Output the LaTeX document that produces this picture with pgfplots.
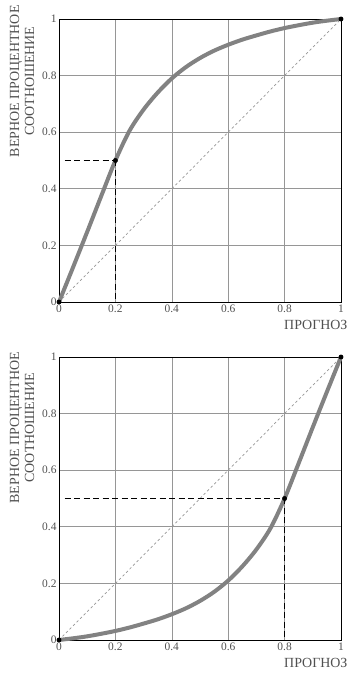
\documentclass[border=0pt]{standalone}
\usepackage{pgfplots}
\pgfplotsset{compat=1.18}
\usepackage{fontspec}
\setmainfont{Liberation Serif}
\definecolor{curvegray}{RGB}{130,130,130}
\definecolor{gridgray}{RGB}{150,150,150}
\definecolor{labgray}{RGB}{80,80,80}
\pgfplotsset{
  myax/.style={
    scale only axis, width=282bp, height=283bp,
    xmin=0, xmax=1, ymin=0, ymax=1,
    xtick={0,0.2,0.4,0.6,0.8,1}, ytick={0,0.2,0.4,0.6,0.8,1},
    xticklabels={0,0.2,0.4,0.6,0.8,1}, yticklabels={0,0.2,0.4,0.6,0.8,1},
    tick style={draw=none},
    grid=major, grid style={gridgray, line width=0.6bp},
    axis line style={black, line width=0.8bp},
    ticklabel style={font=\fontsize{11.5}{13}\selectfont, text=labgray},
    xticklabel style={yshift=1bp},
    yticklabel style={xshift=1bp},
    clip=false,
  }
}
\pgfplotstableread{
x y
0 0
0.05 0.123
0.1 0.248
0.15 0.375
0.2 0.5
0.25 0.605
0.3 0.68
0.35 0.74
0.4 0.79
0.45 0.83
0.5 0.862
0.55 0.888
0.6 0.909
0.65 0.927
0.7 0.942
0.75 0.956
0.8 0.968
0.85 0.978
0.9 0.987
0.95 0.994
1 1
}\topcurve
\pgfplotstableread{
x y
0 0
0.05 0.006
0.1 0.013
0.15 0.022
0.2 0.032
0.25 0.044
0.3 0.058
0.35 0.073
0.4 0.091
0.45 0.112
0.5 0.138
0.55 0.17
0.6 0.21
0.65 0.26
0.7 0.32
0.75 0.395
0.8 0.5
0.85 0.625
0.9 0.752
0.95 0.877
1 1
}\botcurve
\begin{document}
\begin{tikzpicture}
\useasboundingbox (0,0) rectangle (356bp,681bp);
% top
\begin{axis}[myax, at={(59bp,379bp)}, anchor=south west]
\addplot[gridgray, line width=0.7bp, dash pattern=on 2.5bp off 2.5bp] coordinates {(0,0) (1,1)};
\addplot[curvegray, line width=4bp, smooth] table {\topcurve};
\addplot[black, line width=0.8bp, dash pattern=on 6bp off 3.5bp] coordinates {(0.02,0.5) (0.2,0.5)};
\addplot[black, line width=0.8bp, dash pattern=on 6bp off 3.5bp] coordinates {(0.2,0.5) (0.2,0)};
\addplot[only marks, mark=*, mark size=2.2bp, black] coordinates {(0,0) (0.2,0.5) (1,1)};
\node[xshift=-37bp, rotate=90, align=center, text=labgray, font=\fontsize{14}{15}\selectfont, anchor=center] at (rel axis cs:0,0.78) {ВЕРНОЕ ПРОЦЕНТНОЕ\\СООТНОШЕНИЕ};
\node[xshift=10bp, yshift=-15bp, anchor=north east, text=labgray, font=\fontsize{14}{15}\selectfont] at (rel axis cs:1,0) {ПРОГНОЗ};
\end{axis}
% bottom
\begin{axis}[myax, at={(59bp,41bp)}, anchor=south west]
\addplot[gridgray, line width=0.7bp, dash pattern=on 2.5bp off 2.5bp] coordinates {(0,0) (1,1)};
\addplot[curvegray, line width=4bp, smooth] table {\botcurve};
\addplot[black, line width=0.8bp, dash pattern=on 6bp off 3.5bp] coordinates {(0.02,0.5) (0.8,0.5)};
\addplot[black, line width=0.8bp, dash pattern=on 6bp off 3.5bp] coordinates {(0.8,0.5) (0.8,0)};
\addplot[only marks, mark=*, mark size=2.2bp, black] coordinates {(0,0) (0.8,0.5) (1,1)};
\node[xshift=-37bp, rotate=90, align=center, text=labgray, font=\fontsize{14}{15}\selectfont, anchor=center] at (rel axis cs:0,0.75) {ВЕРНОЕ ПРОЦЕНТНОЕ\\СООТНОШЕНИЕ};
\node[xshift=10bp, yshift=-15bp, anchor=north east, text=labgray, font=\fontsize{14}{15}\selectfont] at (rel axis cs:1,0) {ПРОГНОЗ};
\end{axis}
\end{tikzpicture}
\end{document}
